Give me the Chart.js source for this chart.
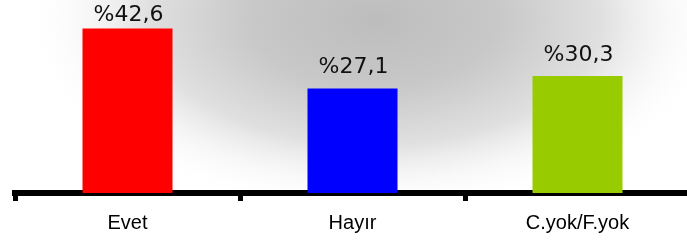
<!DOCTYPE html>
<html>
<head>
<meta charset="utf-8">
<script src="https://cdn.jsdelivr.net/npm/chart.js@4"></script>
<style>
  body { margin: 0; overflow: hidden; background: #fff; }
</style>
</head>
<body>
<canvas id="myChart" width="700" height="254"></canvas>
<script>
var categories = ['Evet', 'Hayır', 'C.yok/F.yok']
var values = [42.6, 27.1, 30.3]
var valueLabels = ['%42,6', '%27,1', '%30,3']
var barColors = ['#ff0000', '#0000ff', '#99cc00']

// grey glow behind the bars
const bgPlugin = {
    id: 'bg',
    beforeDraw(chart) {
        const ctx = chart.ctx
        ctx.save()
        ctx.fillStyle = '#ffffff'
        ctx.fillRect(0, 0, chart.width, chart.height)
        ctx.translate(375, 20)
        ctx.scale(1, 0.55)
        const g = ctx.createRadialGradient(0, 0, 0, 0, 0, 350)
        g.addColorStop(0, '#bdbdbd')
        g.addColorStop(0.35, '#c8c8c8')
        g.addColorStop(0.65, '#e0e0e0')
        g.addColorStop(1, 'rgba(255,255,255,0)')
        ctx.fillStyle = g
        ctx.fillRect(-400, -60, 800, 400)
        ctx.restore()
    }
}

// percent text above each bar, kept inside the top edge
const valuePlugin = {
    id: 'values',
    afterDatasetsDraw(chart) {
        const ctx = chart.ctx
        const meta = chart.getDatasetMeta(0)
        ctx.save()
        ctx.font = '22px "DejaVu Sans"'
        ctx.fillStyle = '#111111'
        ctx.textAlign = 'center'
        ctx.textBaseline = 'alphabetic'
        meta.data.forEach((bar, i) => {
            let y = Math.max(bar.y - 15, 21)
            ctx.fillText(valueLabels[i], bar.x + 1, y)
        })
        ctx.restore()
    }
}

const abc = document.getElementById('myChart')
const myChart = new Chart(abc, {
    type: 'bar',
    data: {
        labels: categories,
        datasets: [{
            data: values,
            backgroundColor: barColors,
            borderWidth: 0,
            categoryPercentage: 1,
            barPercentage: 0.4
        }]
    },
    options: {
        responsive: false,
        animation: false,
        layout: { padding: { left: 15, right: 10, top: 0, bottom: 9 } },
        plugins: {
            legend: { display: false },
            tooltip: { enabled: false }
        },
        scales: {
            x: {
                z: 1,
                offset: true,
                grid: {
                    offset: true,
                    drawOnChartArea: false,
                    drawTicks: true,
                    tickLength: 8,
                    tickWidth: 5,
                    tickColor: '#000000'
                },
                border: { display: true, color: '#000000', width: 6 },
                ticks: {
                    padding: 10,
                    color: '#000000',
                    font: { family: '"Liberation Sans", Arial', size: 20 }
                }
            },
            y: {
                display: false,
                min: 0,
                max: 50
            }
        }
    },
    plugins: [bgPlugin, valuePlugin]
})
</script>
</body>
</html>
